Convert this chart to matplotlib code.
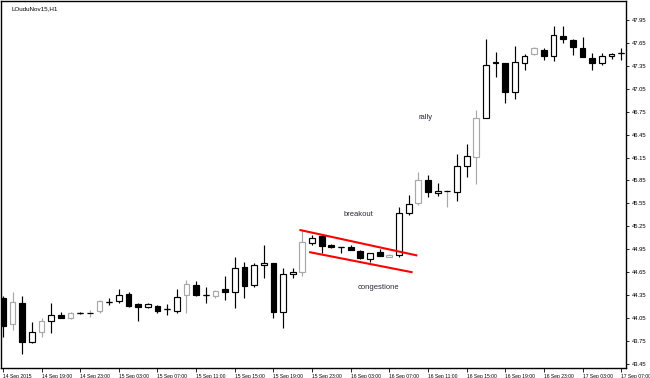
import matplotlib
matplotlib.use("Agg")
import matplotlib.pyplot as plt
import numpy as np

# hourly OHLC, 14 Sep 15:00 -> 17 Sep 07:00
opens = [44.31, 43.97, 44.25, 43.74, 43.87, 44.01, 44.09, 44.05, 44.11, 44.11,
         44.14, 44.26, 44.27, 44.36, 44.23, 44.19, 44.21, 44.17, 44.14, 44.35,
         44.48, 44.35, 44.34, 44.43, 44.39, 44.72, 44.48, 44.74, 44.77, 44.13,
         44.63, 44.65, 45.03, 45.12, 45.00, 44.98, 44.98, 44.93, 44.82, 44.91,
         44.85, 44.87, 45.42, 45.55, 45.86, 45.69, 45.71, 45.70, 46.04, 46.16,
         46.67, 47.39, 47.39, 47.01, 47.39, 47.50, 47.56, 47.48, 47.74, 47.69,
         47.58, 47.45, 47.39, 47.48, 47.52]
highs = [44.34, 44.39, 44.34, 44.00, 44.05, 44.25, 44.13, 44.13, 44.13, 44.15,
         44.29, 44.31, 44.43, 44.39, 44.25, 44.25, 44.22, 44.23, 44.43, 44.55,
         44.53, 44.46, 44.42, 44.60, 44.85, 44.78, 44.77, 45.00, 44.77, 44.70,
         44.70, 45.20, 45.14, 45.14, 45.02, 44.98, 45.00, 44.94, 44.90, 44.95,
         44.89, 45.50, 45.66, 45.96, 45.92, 45.82, 45.73, 46.20, 46.33, 46.77,
         47.70, 47.53, 47.39, 47.61, 47.50, 47.60, 47.58, 47.87, 47.87, 47.70,
         47.73, 47.52, 47.52, 47.52, 47.58]
lows = [43.80, 43.89, 43.58, 43.72, 43.80, 43.85, 44.05, 44.04, 44.10, 44.06,
        44.11, 44.22, 44.25, 44.19, 44.01, 44.18, 44.11, 44.09, 44.11, 44.11,
        44.34, 44.25, 44.31, 44.29, 44.18, 44.31, 44.46, 44.57, 44.05, 43.92,
        44.57, 44.60, 45.00, 44.90, 44.97, 44.90, 44.94, 44.82, 44.78, 44.86,
        44.85, 44.85, 45.40, 45.53, 45.63, 45.65, 45.50, 45.58, 45.90, 45.80,
        46.67, 47.20, 46.86, 46.92, 47.30, 47.49, 47.43, 47.41, 47.65, 47.49,
        47.47, 47.30, 47.36, 47.44, 47.43]
closes = [43.95, 44.26, 43.74, 43.87, 44.01, 44.09, 44.05, 44.11, 44.11, 44.11,
          44.27, 44.26, 44.35, 44.21, 44.19, 44.23, 44.14, 44.17, 44.32, 44.49,
          44.35, 44.35, 44.40, 44.39, 44.70, 44.47, 44.74, 44.77, 44.13, 44.63,
          44.65, 45.04, 45.10, 44.99, 44.98, 44.98, 44.94, 44.83, 44.90, 44.86,
          44.87, 45.42, 45.54, 45.86, 45.70, 45.71, 45.71, 46.04, 46.17, 46.67,
          47.36, 47.40, 47.01, 47.40, 47.48, 47.58, 47.48, 47.75, 47.70, 47.60,
          47.47, 47.39, 47.48, 47.50, 47.52]

x_labels = ["14 Sep 2015", "14 Sep 19:00", "14 Sep 23:00", "15 Sep 03:00",
            "15 Sep 07:00", "15 Sep 11:00", "15 Sep 15:00", "15 Sep 19:00",
            "15 Sep 23:00", "16 Sep 03:00", "16 Sep 07:00", "16 Sep 11:00",
            "16 Sep 15:00", "16 Sep 19:00", "16 Sep 23:00", "17 Sep 03:00",
            "17 Sep 07:00"]
y_ticks = [43.45, 43.75, 44.05, 44.35, 44.65, 44.95, 45.25, 45.55,
           45.85, 46.15, 46.45, 46.75, 47.05, 47.35, 47.65, 47.95]

# channel lines (bar index, price)
upper_x = [30.8, 42.8]
upper_y = [45.20, 44.87]
lower_x = [31.8, 42.3]
lower_y = [44.91, 44.65]

# bars whose outline shows up lighter in the screenshot
soft = {1, 4, 7, 9, 10, 19, 22, 31, 40, 43, 46, 49, 55}

o = np.array(opens)
h = np.array(highs)
l = np.array(lows)
c = np.array(closes)
idx = np.arange(len(o))

fig = plt.figure(figsize=(6.5, 3.78), dpi=100)
ax = fig.add_axes([1 / 650, 10 / 378, 625 / 650, 367 / 378])

edge = ["#a8a8a8" if i in soft else "black" for i in idx]
face = ["white" if c[i] >= o[i] else "black" for i in idx]

ax.vlines(idx, l, h, colors=edge, linewidth=0.85, zorder=1)
ax.bar(idx, np.abs(c - o), bottom=np.minimum(o, c), width=0.6,
       color=face, edgecolor=edge, linewidth=0.85, zorder=2)
flat = np.abs(c - o) < 0.005
ax.hlines(c[flat], idx[flat] - 0.3, idx[flat] + 0.3, colors="black",
          linewidth=0.85, zorder=3)

ax.plot(upper_x, upper_y, color="#ff0000", linewidth=1.5, zorder=4)
ax.plot(lower_x, lower_y, color="#ff0000", linewidth=1.5, zorder=4)

txt = dict(fontsize=5.5, family="Liberation Sans", color="#2b2b3a",
           ha="center", va="center")
ax.text(43.8, 46.67, "rally", **txt)
ax.text(36.8, 45.40, "breakout", **txt)
ax.text(38.9, 44.45, "congestione", **txt)

ax.text(0.016, 0.978, "LOuduNov15,H1", transform=ax.transAxes,
        fontsize=4.5, family="Liberation Sans", va="center", ha="left")

ax.set_xlim(-0.2, 64.5)
ax.set_ylim(43.395, 48.199)

ax.set_xticks(np.arange(0, len(o), 4))
ax.set_xticklabels(x_labels, fontsize=3.6, family="Liberation Sans")
for lbl in ax.get_xticklabels():
    lbl.set_ha("left")
ax.tick_params(axis="x", length=3, width=0.6, pad=1.5)

ax.yaxis.tick_right()
ax.set_yticks(y_ticks)
ax.set_yticklabels([f"{v:.2f}" for v in y_ticks], fontsize=4.2,
                   family="Liberation Sans")
ax.tick_params(axis="y", length=2.5, width=0.6, pad=1.5)

for s in ax.spines.values():
    s.set_linewidth(1)
    s.set_color("black")

plt.savefig("out.png", dpi=100)
